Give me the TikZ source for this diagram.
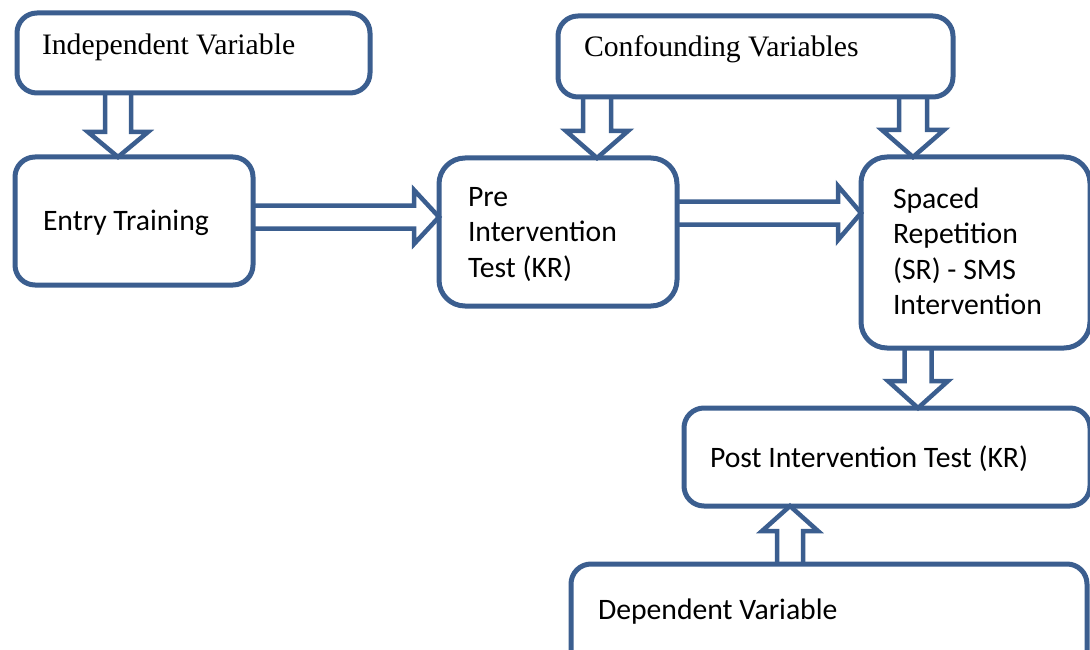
\documentclass[tikz,border=0pt]{standalone}
\usepackage{fontspec}
\setmainfont{Liberation Serif}
\newfontfamily\calfont{Carlito}
\usetikzlibrary{calc}
\definecolor{bc}{RGB}{59,94,143}
\newcommand\bt[2]{\parbox[t]{#1pt}{\raggedright #2}}
\newcommand\vblk[6]{%
  \pgfmathsetmacro\xa{#3-#4}\pgfmathsetmacro\xb{#3+#4}%
  \pgfmathsetmacro\xc{#3-#5}\pgfmathsetmacro\xd{#3+#5}%
  \draw[blk] (\xa,0 |- #1) -- ($(\xa,0 |- #2)+(0,#6)$) -- ($(\xc,0 |- #2)+(0,#6)$)
    -- (#3,0 |- #2) -- ($(\xd,0 |- #2)+(0,#6)$) -- ($(\xb,0 |- #2)+(0,#6)$) -- (\xb,0 |- #1);}
\newcommand\hblk[6]{%
  \pgfmathsetmacro\ya{#3-#4}\pgfmathsetmacro\yb{#3+#4}%
  \pgfmathsetmacro\yc{#3-#5}\pgfmathsetmacro\yd{#3+#5}%
  \draw[blk] (#1 |- 0,\ya) -- ($(#2 |- 0,\ya)+(#6,0)$) -- ($(#2 |- 0,\yc)+(#6,0)$)
    -- (#2 |- 0,#3) -- ($(#2 |- 0,\yd)+(#6,0)$) -- ($(#2 |- 0,\yb)+(#6,0)$) -- (#1 |- 0,\yb);}
\begin{document}
\begin{tikzpicture}[x=1pt,y=-1pt,
  box/.style={draw=bc, line width=5pt, rounded corners=20pt, fill=white,
    inner ysep=0pt, outer sep=0pt, anchor=north west},
  serif/.style={font=\fontsize{29.7}{35}\selectfont},
  sans/.style={font=\calfont\fontsize{29.7}{35.5}\selectfont},
  blk/.style={draw=bc, line width=4.5pt, line join=miter}]
\useasboundingbox (0,0) rectangle (1090,650);
\clip (0,0) rectangle (1090,650);
% boxes
\node[box,serif,inner xsep=25pt,text height=42pt,text depth=38pt] (iv) at (17,13)
  {\bt{303}{Independent Variable}};
\node[box,serif,inner xsep=26pt,text height=41pt,text depth=40pt] (cv) at (558,16)
  {\bt{343}{Confounding Variables}};
\node[box,sans,inner xsep=28pt,text height=73pt,text depth=55pt] (et) at (15,157)
  {\bt{182}{Entry Training}};
\node[box,sans,rounded corners=26pt,inner xsep=29pt,text height=48pt,text depth=100pt] (pre) at (439,158)
  {\bt{180}{Pre\\Intervention\\Test (KR)}};
\node[box,sans,rounded corners=26pt,inner xsep=32pt,text height=51pt,text depth=140pt] (sr) at (861,157)
  {\bt{165}{Spaced\\Repetition\\(SR) - SMS\\Intervention}};
\node[box,sans,inner xsep=26pt,text height=59pt,text depth=39pt] (post) at (684,408)
  {\bt{354}{Post Intervention Test (KR)}};
\node[box,sans,inner xsep=27pt,text height=55pt,text depth=71pt] (dv) at (571,564)
  {\bt{462}{Dependent Variable}};
% block arrows
\vblk{iv.south}{et.north}{118}{13}{30}{-25}
\vblk{cv.south}{pre.north}{597}{14}{31}{-27}
\vblk{cv.south}{sr.north}{913}{14}{31}{-27}
\vblk{sr.south}{post.north}{918}{13.5}{30}{-27}
\vblk{dv.north}{post.south}{790}{13}{28}{25}
\hblk{et.east}{pre.west}{217}{11.5}{27}{-25}
\hblk{pre.east}{sr.west}{213}{11.5}{27}{-23}
\end{tikzpicture}
\end{document}
